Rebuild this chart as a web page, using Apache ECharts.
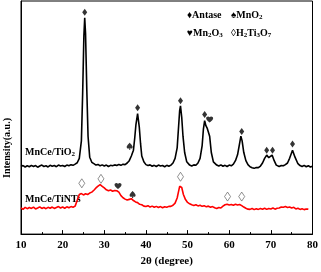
<!DOCTYPE html>
<html>
<head>
<meta charset="utf-8">
<script src="https://cdn.jsdelivr.net/npm/echarts@6/dist/echarts.min.js"></script>
<style>
  html, body { margin: 0; padding: 0; background: #fff; }
  #xrd { width: 321px; height: 272px; }
</style>
</head>
<body>
<div id="xrd"></div>
<script>
// XRD patterns, 2theta (degree) vs intensity (a.u.)
var tioX = [10,10.5,11,11.5,12,12.5,13,13.5,14,14.5,15,15.5,16,16.5,17,17.5,18,18.5,19,19.5,20,20.5,21,21.5,22,22.5,23,23.5,24,24.5,24.8,25.1,25.3,25.5,25.8,26.1,26.5,27,27.5,28,28.5,29,29.5,30,30.5,31,31.5,32,32.5,33,33.5,34,34.5,35,35.5,36,36.5,37,37.3,37.6,38,38.4,38.7,39,39.5,40,40.5,41,41.5,42,42.5,43,43.5,44,44.5,45,45.5,46,46.5,47,47.5,47.8,48.1,48.3,48.6,48.9,49.3,49.8,50.5,51,51.5,52,52.5,53,53.5,53.8,54.1,54.4,54.7,55,55.3,55.7,56.2,57,57.5,58,58.5,59,59.5,60,60.5,61,61.5,62,62.4,62.8,63.1,63.5,64,64.5,65,65.5,66,66.5,67,67.5,68,68.5,69,69.5,69.8,70.3,70.8,71.3,72,72.5,73,73.5,74,74.5,75.2,75.8,76.5,77,77.5,78,78.5,79,79.5,80];
var tioY = [29.0,29.4,28.8,29.3,28.9,29.5,29.0,29.4,28.7,29.2,29.6,29.0,29.3,28.8,29.5,29.1,29.4,28.9,29.6,29.2,29.4,29.0,29.6,29.3,29.8,29.5,30.0,30.6,32.5,40,60,85,92.8,86,62,42,33,30.8,30.2,29.6,29.9,29.3,29.7,29.2,29.6,29.0,29.5,29.3,29.7,29.4,29.9,29.5,30.0,29.8,30.5,31.5,33.5,36,41,47,51.7,46,39,33.5,31,29.8,29.4,29.7,29.1,29.5,29.0,29.6,29.2,29.4,28.9,29.5,29.1,29.6,30.5,32.5,37,45,53,55,50,42,35,31,29.6,29.2,29.7,29.5,30.5,32.5,38,45,48.7,46.5,45.5,46.2,42,35,31,29.6,29.2,29.7,29.1,29.5,29.0,29.6,29.3,30,31.5,34,38,42,40,35,31.5,29.8,28.9,28.5,28.2,28.6,28.5,29.2,30.5,32.5,33.9,32.8,32.6,33.9,31.5,29.6,29.0,29.4,29.3,29.8,30.5,32.5,36,33,30.2,29.4,29.0,29.5,28.9,29.3,28.8,29.1];

var ntsX = [10,10.5,11,11.5,12,12.5,13,13.5,14,14.5,15,15.5,16,16.5,17,17.5,18,18.5,19,19.5,20,20.5,21,21.5,22,22.5,23,23.4,23.7,24,24.5,25,25.5,26,26.5,27,27.5,28,28.5,29,29.5,30,30.5,31,31.5,32,32.5,33,33.5,34,34.5,35,35.5,36,36.5,37,37.5,38,38.5,39,39.5,40,40.5,41,41.5,42,42.5,43,43.5,44,44.5,45,45.5,46,46.5,47,47.5,47.8,48.1,48.3,48.6,49,49.5,50,50.5,51,51.5,52,52.5,53,53.5,54,54.5,55,55.5,56,56.5,57,57.5,58,58.5,59,59.5,60,60.5,61,61.5,62,62.5,63,63.5,64,64.5,65,65.5,66,66.5,67,67.5,68,68.5,69,69.5,70,70.5,71,71.5,72,72.5,73,73.5,74,74.5,75,75.5,76,76.5,77,77.5,78,78.5,79,79.5,80];
var ntsY = [11.3,10.6,11.5,10.9,11.4,11.0,11.6,10.8,11.2,11.7,11.0,11.4,10.9,11.5,11.1,11.6,11.0,11.4,11.8,11.2,11.6,11.1,11.7,11.3,11.8,11.5,12.0,12.8,15.5,17.0,17.4,16.8,17.3,17.0,17.6,18.0,18.8,19.8,20.6,21.2,20.5,19.8,19.0,18.6,18.9,18.4,18.7,18.6,18.0,16.5,15.6,15.0,14.6,14.9,15.2,14.4,13.8,13.5,12.8,12.6,12.0,11.8,12.2,11.6,12.0,11.5,11.9,11.4,11.8,11.3,11.7,11.5,11.9,11.9,12.4,13.3,15.5,18.0,20.5,21.2,20.0,17.0,14.8,13.6,13.0,12.6,12.3,12.6,12.1,12.4,11.9,12.2,11.7,12.0,11.5,11.8,11.3,11.0,11.4,11.2,12.0,12.6,12.8,12.5,12.7,12.4,12.8,12.5,12.7,12.2,11.6,11.1,10.7,10.6,11.0,10.5,10.9,10.6,11.0,10.7,11.1,10.6,11.0,10.8,11.2,10.7,11.1,11.2,11.6,11.5,11.8,11.4,11.6,11.2,11.5,10.8,11.1,10.6,10.9,10.5,10.8,10.7];

// peak markers [2theta, height]
var anatasePts = [[25.3,95.2],[38.0,54.2],[48.3,57.2],[54.1,51.3],[63.0,44.0],[69.0,36.0],[70.4,36.0],[75.2,38.6]];
var mno2Pts = [[36.1,37.7],[36.8,17.0]];
var mn2o3Pts = [[55.3,49.2],[33.3,20.6]];
var h2ti3o7Pts = [[24.6,21.8],[29.2,23.7],[48.3,24.6],[59.6,16.1],[63.0,16.1]];

var xTicks = [10, 20, 30, 40, 50, 60, 70, 80];

function zip(xs, ys) {
  var out = [];
  for (var i = 0; i < xs.length; i++) out.push([xs[i], ys[i]]);
  return out;
}

var serif = '"Liberation Serif", "Times New Roman", serif';
var heart = 'path://M12 21C12 21 2 13.5 2 7.5C2 4.5 4.5 2 7.5 2C9.5 2 11 3 12 5C13 3 14.5 2 16.5 2C19.5 2 22 4.5 22 7.5C22 13.5 12 21 12 21Z';
var spade = 'path://M12 1C12 1 2 9 2 14.5C2 17.5 4.5 19.5 7 19.5C9 19.5 10.5 18.5 11 17.5L9.5 23L14.5 23L13 17.5C13.5 18.5 15 19.5 17 19.5C19.5 19.5 22 17.5 22 14.5C22 9 12 1 12 1Z';

var txt = function (t) {
  return {
    fontFamily: serif, fontWeight: 'bold', fontSize: 10, fill: '#000',
    rich: {
      n: { fontFamily: serif, fontWeight: 'bold', fontSize: 10, color: '#000', lineHeight: 12 },
      s: { fontFamily: serif, fontWeight: 'bold', fontSize: 7, color: '#000', lineHeight: 12, padding: [5, 0, 0, 0] }
    },
    text: t
  };
};

var option = {
  animation: false,
  grid: { left: 21, right: 8, top: 1, bottom: 35, show: true, borderColor: '#000', borderWidth: 1 },
  xAxis: {
    type: 'value', min: 10, max: 80, interval: 10,
    name: '2θ (degree)', nameLocation: 'middle', nameGap: 21,
    nameTextStyle: { fontFamily: serif, fontWeight: 'bold', fontSize: 11, color: '#000' },
    axisLine: { lineStyle: { color: '#000', width: 1 } },
    axisTick: { inside: true, length: 4, lineStyle: { color: '#000' } },
    minorTick: { show: true, splitNumber: 2, length: 2, lineStyle: { color: '#000' } },
    axisLabel: {
      margin: 6, fontFamily: serif, fontWeight: 'bold', fontSize: 11, color: '#000',
      formatter: function (v) { return xTicks.indexOf(v) >= 0 ? String(v) : ''; }
    },
    splitLine: { show: false }
  },
  yAxis: {
    type: 'value', min: 0, max: 100,
    axisLine: { show: true, lineStyle: { color: '#000' } },
    axisTick: { show: false }, axisLabel: { show: false }, splitLine: { show: false }
  },
  series: [
    { type: 'line', data: zip(tioX, tioY), symbol: 'none', lineStyle: { color: '#000', width: 1.6 } },
    { type: 'line', data: zip(ntsX, ntsY), symbol: 'none', lineStyle: { color: '#ff0000', width: 1.6 } },
    { type: 'scatter', data: anatasePts, symbol: 'diamond', symbolSize: [5, 7], itemStyle: { color: '#000' } },
    { type: 'scatter', data: mno2Pts, symbol: spade, symbolSize: [6, 7], itemStyle: { color: '#000' } },
    { type: 'scatter', data: mn2o3Pts, symbol: heart, symbolSize: [7, 6], itemStyle: { color: '#000' } },
    { type: 'scatter', data: h2ti3o7Pts, symbol: 'diamond', symbolSize: [6, 9],
      itemStyle: { color: '#fff', borderColor: '#555', borderWidth: 0.8 } }
  ],
  graphic: [
    { type: 'text', x: 7, y: 148, rotation: Math.PI / 2,
      style: { text: 'Intensity(a.u.)', fontFamily: serif, fontWeight: 'bold', fontSize: 10, fill: '#000', align: 'center', verticalAlign: 'middle' } },
    { type: 'text', x: 25, y: 146, style: txt('{n|MnCe/TiO}{s|2}') },
    { type: 'text', x: 25, y: 193, style: txt('{n|MnCe/TiNTs}') },
    { type: 'text', x: 187, y: 9, style: txt('{n|♦Antase}') },
    { type: 'text', x: 231, y: 9, style: txt('{n|♠MnO}{s|2}') },
    { type: 'text', x: 187, y: 27, style: txt('{n|♥Mn}{s|2}{n|O}{s|3}') },
    { type: 'text', x: 231, y: 27, style: txt('{n|◊H}{s|2}{n|Ti}{s|3}{n|O}{s|7}') }
  ]
};

var chart = echarts.init(document.getElementById('xrd'));
chart.setOption(option);
</script>
</body>
</html>
